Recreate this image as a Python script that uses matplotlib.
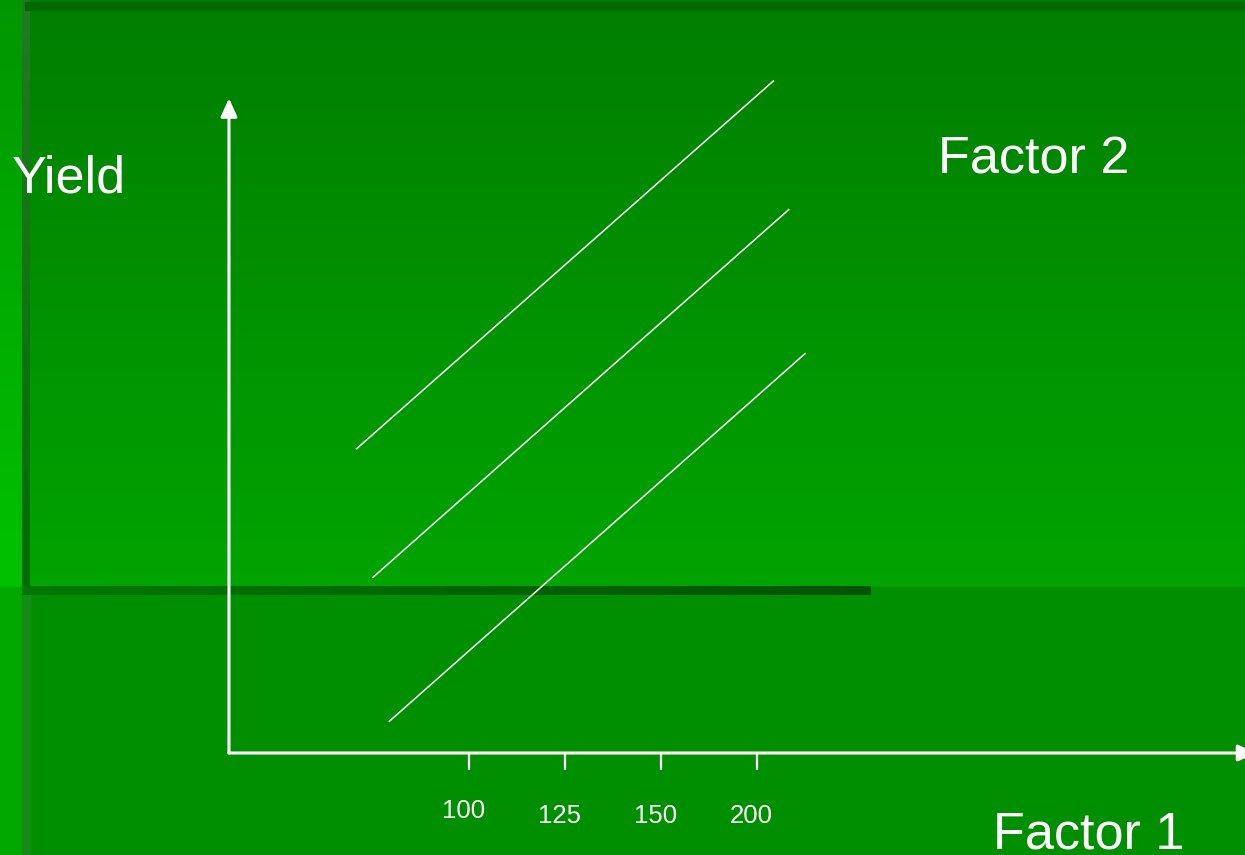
import matplotlib.pyplot as plt
import numpy as np
from matplotlib.colors import LinearSegmentedColormap

# Factor 1 levels, evenly spaced along the horizontal axis
factor1_labels = ["100", "125", "150", "200"]
factor1_pos = [1, 2, 3, 4]

# Three parallel response lines, one per level of Factor 2
f2_x_start = [-0.17, 0.0, 0.17]
f2_x_end = [4.17, 4.33, 4.5]
f2_y_start = [3.17, 1.83, 0.33]
f2_y_end = [7.0, 5.66, 4.16]

W, H = 1245, 855
fig = plt.figure(figsize=(W / 100, H / 100), dpi=100)
plt.rcParams["font.family"] = ["Liberation Sans", "DejaVu Sans"]


def vgrad(ax, x0, x1, y0, y1, c0, c1):
    cmap = LinearSegmentedColormap.from_list("g", [c0, c1])
    grad = np.linspace(0, 1, 256).reshape(-1, 1)
    ax.imshow(grad, cmap=cmap, extent=(x0, x1, y1, y0), aspect="auto",
              interpolation="bilinear", zorder=1)


def hgrad(ax, x0, x1, y0, y1, c0, c1):
    cmap = LinearSegmentedColormap.from_list("g", [c0, c1])
    grad = np.linspace(0, 1, 256).reshape(1, -1)
    ax.imshow(grad, cmap=cmap, extent=(x0, x1, y1, y0), aspect="auto",
              interpolation="bilinear", zorder=2)


# slide background (pixel coordinates)
bg = fig.add_axes([0, 0, 1, 1])
bg.set_xlim(0, W)
bg.set_ylim(H, 0)
bg.axis("off")
vgrad(bg, 0, W, 0, 587, "#007e00", "#00a400")
bg.add_patch(plt.Rectangle((0, 587), W, H - 587, color="#008f00", zorder=1))
vgrad(bg, 0, 22, 0, 587, "#009600", "#00c200")
bg.add_patch(plt.Rectangle((0, 587), 22, H - 587, color="#00a800", zorder=2))
vgrad(bg, 22, 30, 0, 587, "#237a23", "#006e00")
bg.add_patch(plt.Rectangle((22, 587), 8, H - 587, color="#158a15", zorder=2))
bg.add_patch(plt.Rectangle((25, 2), W, 8, color="#006a00", zorder=2))
hgrad(bg, 22, 871, 586, 595, "#007800", "#005400")
bg.set_xlim(0, W)
bg.set_ylim(H, 0)

bg.text(12, 192, "Yield", fontsize=37.5, color="white", va="baseline", ha="left")
bg.text(938, 173, "Factor 2", fontsize=37.5, color="white", va="baseline", ha="left")
bg.text(993, 848, "Factor 1", fontsize=37.5, color="white", va="baseline", ha="left")

# chart area
ax = fig.add_axes([0, 0, 1, 1])
ax.patch.set_alpha(0)
ax.axis("off")
ax.set_xlim(-3.885, 9.083)
ax.set_ylim(-1.0625, 7.844)

x0, y0 = -1.5, 0.0
arrow = dict(arrowstyle="-|>,head_length=0.55,head_width=0.25", lw=2.2,
             color="white", shrinkA=0, shrinkB=0, mutation_scale=20)
ax.annotate("", xy=(x0, 6.82), xytext=(x0, y0), arrowprops=arrow, annotation_clip=False)
ax.annotate("", xy=(9.2, y0), xytext=(x0, y0), arrowprops=arrow, annotation_clip=False)

ax.vlines(factor1_pos, -0.18, 0, color="white", lw=1.6)
label_y = [-0.68, -0.73, -0.73, -0.73]
for p, lab, ly in zip(factor1_pos, factor1_labels, label_y):
    ax.text(p - 0.06, ly, lab, fontsize=18.5, color="white", ha="center", va="baseline")

for xs, xe, ys, ye in zip(f2_x_start, f2_x_end, f2_y_start, f2_y_end):
    ax.plot([xs, xe], [ys, ye], color="white", lw=1.1)

fig.savefig("out.png", dpi=100)
